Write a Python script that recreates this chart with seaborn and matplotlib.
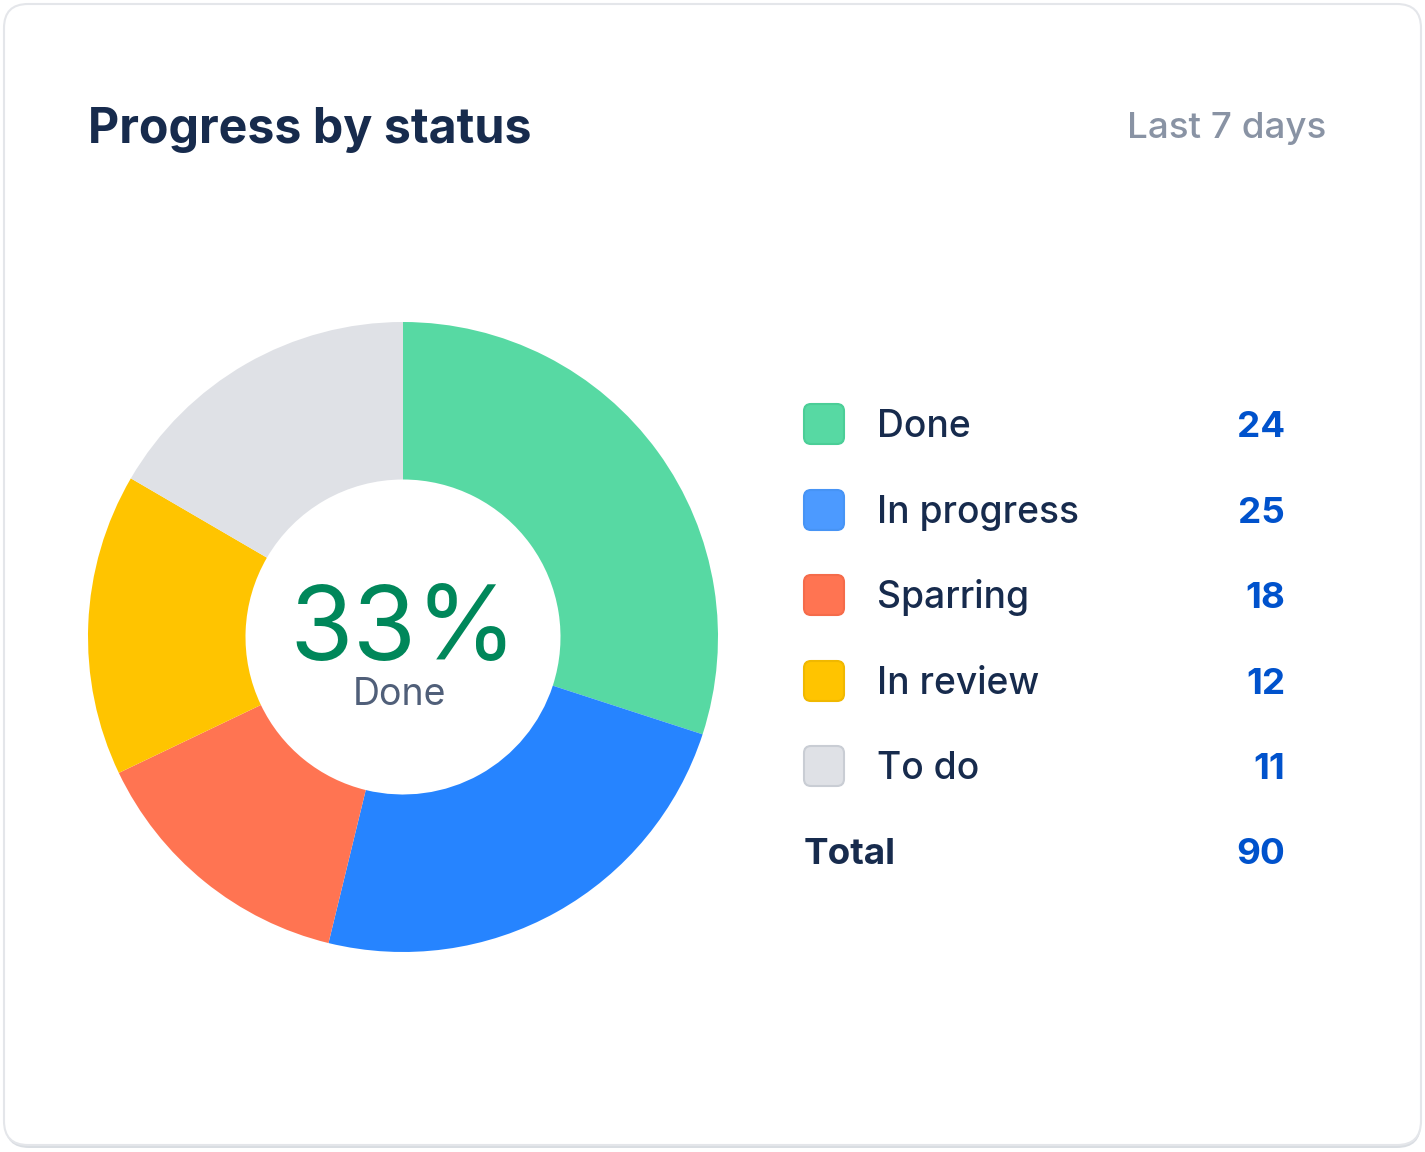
import matplotlib
matplotlib.use("Agg")
import matplotlib.pyplot as plt
from matplotlib.patches import FancyBboxPatch
import seaborn as sns

# ---- data ----
statuses = ["Done", "In progress", "Sparring", "In review", "To do"]
counts = [24, 25, 18, 12, 11]
total_label = "Total"
total_value = 90
# slice shares as drawn in the donut (percent of circle)
slice_shares = [30.0, 23.8, 14.1, 15.5, 16.6]
center_pct = "33%"
center_label = "Done"
title = "Progress by status"
subtitle = "Last 7 days"

slice_colors = ["#57D9A3", "#2684FF", "#FF7452", "#FFC400", "#DFE1E6"]
swatch_colors = ["#57D9A3", "#4C9AFF", "#FF7452", "#FFC400", "#DFE1E6"]
swatch_edges = ["#4BCE97", "#4794F5", "#F56B4A", "#F0B800", "#C9CDD4"]

sns.set_theme(style="white")
plt.rcParams["font.family"] = ["Inter", "DejaVu Sans"]

W, H = 1425, 1152
fig = plt.figure(figsize=(W / 100, H / 100), dpi=100)
fig.patch.set_facecolor("white")

# background / card axes in pixel coordinates
bg = fig.add_axes([0, 0, 1, 1], zorder=0)
bg.set_xlim(0, W)
bg.set_ylim(H, 0)
bg.axis("off")
shadow = FancyBboxPatch((5, 7), 1416, 1141, boxstyle="round,pad=0,rounding_size=24",
                        facecolor="#C1C7D0", edgecolor="none", alpha=0.6)
bg.add_patch(shadow)
card = FancyBboxPatch((4, 4), 1417, 1141, boxstyle="round,pad=0,rounding_size=24",
                      facecolor="white", edgecolor="#E4E6EA", linewidth=1.5)
bg.add_patch(card)

# legend swatches and text
row_y = [424, 510, 595, 681, 766]
for i, (name, cnt) in enumerate(zip(statuses, counts)):
    y = row_y[i]
    sw = FancyBboxPatch((804, y - 20), 40, 40, boxstyle="round,pad=0,rounding_size=7",
                        facecolor=swatch_colors[i], edgecolor=swatch_edges[i], linewidth=1.5)
    bg.add_patch(sw)
    bg.text(877, y + 13, name, fontsize=26.8, color="#172B4D", ha="left", va="baseline",
            fontweight="medium")
    bg.text(1285, y + 13, str(cnt), fontsize=26.5, color="#0052CC", ha="right",
            va="baseline", fontweight="bold")
bg.text(804, 864, total_label, fontsize=26.5, color="#172B4D", ha="left", va="baseline",
        fontweight="bold")
bg.text(1285, 864, str(total_value), fontsize=26.5, color="#0052CC", ha="right",
        va="baseline", fontweight="bold")

# title / subtitle
bg.text(88, 143, title, fontsize=34.8, color="#172B4D", ha="left", va="baseline",
        fontweight="bold")
bg.text(1326, 138, subtitle, fontsize=26.5, color="#8993A4", ha="right", va="baseline",
        fontweight="medium")

# donut
cx, cy, R = 403, 637, 315
ax = fig.add_axes([(cx - R) / W, (H - cy - R) / H, 2 * R / W, 2 * R / H], zorder=1)
ax.pie(slice_shares, colors=slice_colors, startangle=90, counterclock=False,
       radius=1.0, wedgeprops=dict(width=0.5, edgecolor="none"))
ax.set_xlim(-1, 1)
ax.set_ylim(-1, 1)
ax.set_aspect("equal")
ax.axis("off")
ax.patch.set_alpha(0)

fig.text(cx / W, 1 - 660 / H, center_pct, fontsize=74, color="#00875A", ha="center",
         va="baseline", zorder=5)
fig.text(400 / W, 1 - 705 / H, center_label, fontsize=27, color="#505F79", ha="center",
         va="baseline", zorder=5)

fig.savefig("out.png", dpi=100, facecolor="white")
